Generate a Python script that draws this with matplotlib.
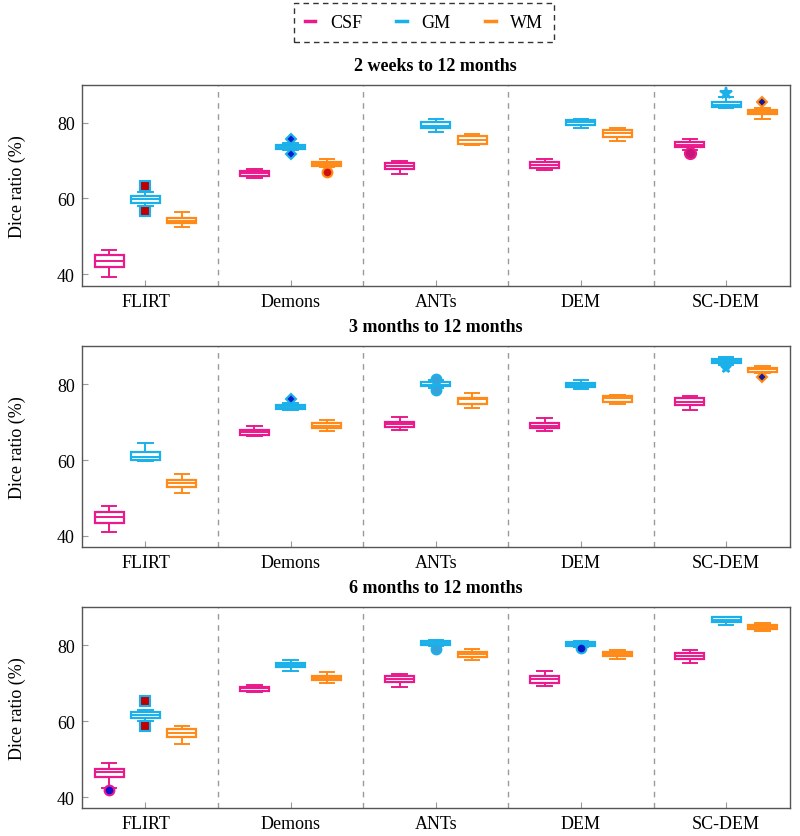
import matplotlib
matplotlib.use('Agg')
import matplotlib.pyplot as plt
from matplotlib.lines import Line2D

plt.rcParams['font.family'] = ['Liberation Serif', 'DejaVu Serif']
plt.rcParams['mathtext.fontset'] = 'stix'

methods = ['FLIRT', 'Demons', 'ANTs', 'DEM', 'SC-DEM']
tissues = ['CSF', 'GM', 'WM']
titles = ['2 weeks to 12 months', '3 months to 12 months', '6 months to 12 months']

# box stats per method: (lower whisker, Q1, median, Q3, upper whisker)
w2_csf = [(39.4, 41.9, 43.5, 45.0, 46.4), (65.3, 66.0, 66.6, 67.3, 67.8), (66.5, 67.8, 68.6, 69.4, 69.9),
          (67.4, 68.1, 68.9, 69.7, 70.4), (72.7, 73.7, 74.2, 74.8, 75.8)]
w2_gm = [(58.1, 58.9, 59.9, 60.7, 61.8), (72.8, 73.1, 73.7, 74.2, 74.6), (77.6, 78.5, 79.2, 80.1, 81.0),
         (78.6, 79.4, 80.1, 80.8, 81.1), (84.0, 84.1, 84.8, 85.5, 86.7)]
w2_wm = [(52.6, 53.5, 54.1, 54.8, 56.4), (68.2, 68.5, 69.2, 69.5, 70.4), (74.2, 74.4, 75.5, 76.6, 77.0),
         (75.1, 76.2, 77.3, 78.0, 78.5), (80.9, 82.2, 82.9, 83.3, 83.9)]

m3_csf = [(40.9, 43.4, 45.1, 46.4, 48.0), (66.3, 66.6, 67.3, 68.0, 69.1), (67.8, 68.7, 69.4, 70.0, 71.3),
          (67.6, 68.4, 69.1, 69.7, 71.0), (73.2, 74.4, 75.4, 76.3, 77.0)]
m3_gm = [(59.7, 60.1, 60.8, 62.1, 64.4), (73.3, 73.5, 73.9, 74.4, 75.1), (78.9, 79.5, 79.9, 80.5, 81.0),
         (78.8, 79.2, 79.8, 80.4, 81.1), (85.2, 85.6, 86.2, 86.7, 87.1)]
m3_wm = [(51.4, 52.9, 54.0, 54.7, 56.2), (67.6, 68.5, 69.1, 69.8, 70.7), (73.7, 74.8, 76.0, 76.5, 77.7),
         (74.8, 75.4, 76.3, 76.8, 77.2), (82.9, 83.3, 84.0, 84.4, 84.7)]

m6_csf = [(42.5, 45.4, 46.5, 47.5, 49.0), (67.7, 67.9, 68.7, 69.1, 69.6), (69.1, 70.3, 71.2, 71.9, 72.5),
          (69.2, 70.2, 71.1, 71.8, 73.2), (75.4, 76.3, 77.2, 78.1, 78.8)]
m6_gm = [(60.0, 60.9, 61.7, 62.4, 62.9), (73.2, 74.2, 74.7, 75.3, 76.1), (79.8, 80.1, 80.6, 81.1, 81.4),
         (79.6, 79.9, 80.4, 80.8, 81.2), (85.3, 86.1, 86.8, 87.4, 87.5)]
m6_wm = [(54.0, 55.8, 56.9, 57.9, 58.7), (70.2, 70.9, 71.5, 72.0, 72.9), (76.1, 77.0, 77.7, 78.3, 79.1),
         (76.3, 77.3, 77.7, 78.3, 78.8), (83.7, 84.4, 84.8, 85.3, 86.0)]

# outliers: (tissue, method index) -> values
w2_out = {('GM', 0): [63.3, 56.6], ('GM', 1): [75.7, 71.7], ('WM', 1): [67.1],
          ('CSF', 4): [72.1], ('GM', 4): [87.8], ('WM', 4): [85.4]}
m3_out = {('GM', 1): [76.0], ('GM', 2): [81.3, 78.6], ('GM', 4): [84.2], ('WM', 4): [81.8]}
m6_out = {('CSF', 0): [41.9], ('GM', 0): [65.2, 58.8], ('GM', 2): [79.0], ('GM', 3): [79.3]}

panels = [
    {'CSF': w2_csf, 'GM': w2_gm, 'WM': w2_wm, 'out': w2_out},
    {'CSF': m3_csf, 'GM': m3_gm, 'WM': m3_wm, 'out': m3_out},
    {'CSF': m6_csf, 'GM': m6_gm, 'WM': m6_wm, 'out': m6_out},
]

colors = {'CSF': '#ea1a8c', 'GM': '#1ab0ea', 'WM': '#ff8a17'}
offsets = {'CSF': -0.25, 'GM': 0.0, 'WM': 0.25}

# outlier marker styles keyed by (panel, tissue, method)
flier_style = {
    (0, 'GM', 0): ('s', '#c00000', 7),
    (0, 'GM', 1): ('D', '#0a1ecc', 5),
    (0, 'WM', 1): ('o', '#d01010', 7),
    (0, 'CSF', 4): ('o', '#c8157a', 8),
    (0, 'GM', 4): ('*', '#1ab0ea', 9),
    (0, 'WM', 4): ('D', '#141a9a', 5),
    (1, 'GM', 1): ('D', '#0a1ecc', 5),
    (1, 'GM', 2): ('o', '#3aa0d8', 7),
    (1, 'GM', 4): ('*', '#1ab0ea', 8),
    (1, 'WM', 4): ('D', '#141a9a', 5),
    (2, 'CSF', 0): ('o', '#1010d0', 7),
    (2, 'GM', 0): ('s', '#c00000', 7),
    (2, 'GM', 2): ('o', '#3aa0d8', 7),
    (2, 'GM', 3): ('o', '#0a14c0', 7),
}

fig = plt.figure(figsize=(8, 8.37), dpi=100)
ax_h = 0.240
bottoms = [0.6575, 0.345, 0.033]

for p, panel in enumerate(panels):
    ax = fig.add_axes([0.102, bottoms[p], 0.8855, ax_h])
    outs = panel['out']
    for t in tissues:
        stats = []
        for i, s in enumerate(panel[t]):
            stats.append({'whislo': s[0], 'q1': s[1], 'med': s[2], 'q3': s[3],
                          'whishi': s[4], 'fliers': []})
        pos = [i + 1 + offsets[t] for i in range(len(methods))]
        c = colors[t]
        ax.bxp(stats, positions=pos, widths=0.2, patch_artist=True, showfliers=False,
               boxprops=dict(facecolor='white', edgecolor=c, linewidth=1.6),
               medianprops=dict(color=c, linewidth=1.4),
               whiskerprops=dict(color=c, linewidth=1.4),
               capprops=dict(color=c, linewidth=1.4), capwidths=0.1,
               manage_ticks=False)
        for i in range(len(methods)):
            vals = outs.get((t, i))
            if not vals:
                continue
            mk, fc, ms = flier_style.get((p, t, i), ('o', c, 6))
            ax.plot([i + 1 + offsets[t]] * len(vals), vals, linestyle='none', marker=mk,
                    markerfacecolor=fc, markeredgecolor=c, markeredgewidth=1.5,
                    markersize=ms, zorder=5)
    for xs in [1.5, 2.5, 3.5, 4.5]:
        ax.axvline(xs, color='#9a9a9a', linestyle=(0, (4, 4)), linewidth=1.0, zorder=0)
    ax.set_xlim(0.56, 5.44)
    ax.set_ylim(37, 90)
    ax.set_xticks(range(1, 6))
    ax.set_xticklabels(methods, fontsize=13)
    ax.set_yticks([40, 60, 80])
    ax.tick_params(axis='both', direction='in', color='#999999', length=4, labelsize=13, pad=5)
    for sp in ax.spines.values():
        sp.set_color('#555555')
        sp.set_linewidth(1.0)
    ax.set_ylabel('Dice ratio (%)', fontsize=13)
    ax.yaxis.set_label_coords(-0.078, 0.5)
    ax.set_title(titles[p], fontsize=13, fontweight='bold', pad=11)

handles = [Line2D([0], [0], color=colors[t], linewidth=2.5) for t in tissues]
leg = fig.legend(handles, tissues, loc='upper center', bbox_to_anchor=(0.53, 1.006), ncol=3,
                 fontsize=13, handlelength=0.6, columnspacing=1.9, handletextpad=0.8,
                 frameon=True, fancybox=False, borderpad=0.6)
leg.get_frame().set_edgecolor('black')
leg.get_frame().set_linestyle((0, (4, 3)))
leg.get_frame().set_linewidth(1.0)

fig.savefig('out.png', dpi=100)
